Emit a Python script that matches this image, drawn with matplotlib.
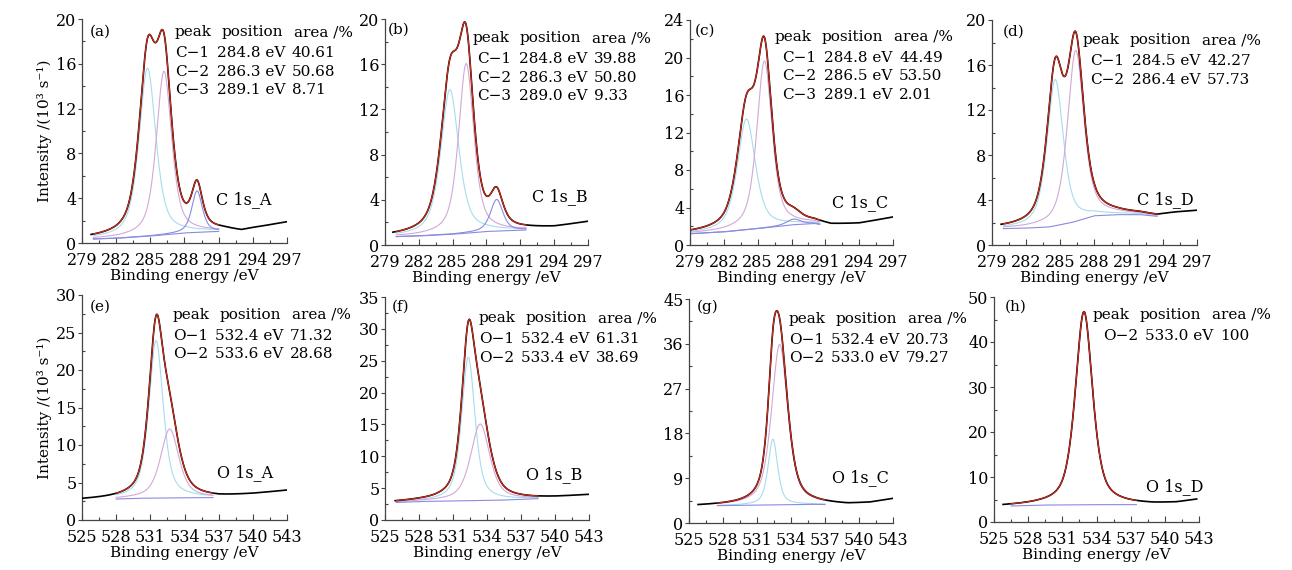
import numpy as np
import matplotlib
matplotlib.use("Agg")
import matplotlib.pyplot as plt
from matplotlib.ticker import MultipleLocator

plt.rcParams["font.family"] = ["DejaVu Serif"]

W, H = 1292, 570

# -------------------------------
# chart values
# -------------------------------

panel_tags = ["(a)", "(b)", "(c)", "(d)", "(e)", "(f)", "(g)", "(h)"]
sample_names = ["C 1s_A", "C 1s_B", "C 1s_C", "C 1s_D",
                "O 1s_A", "O 1s_B", "O 1s_C", "O 1s_D"]

x_limits = [(279, 297)] * 4 + [(525, 543)] * 4
y_tops = [20, 20, 24, 20, 30, 35, 45, 50]
y_steps = [4, 4, 4, 4, 5, 5, 9, 10]

# legend table
peak_labels = [["C−1", "C−2", "C−3"], ["C−1", "C−2", "C−3"],
               ["C−1", "C−2", "C−3"], ["C−1", "C−2"],
               ["O−1", "O−2"], ["O−1", "O−2"], ["O−1", "O−2"], ["O−2"]]
peak_positions = [[284.8, 286.3, 289.1], [284.8, 286.3, 289.0],
                  [284.8, 286.5, 289.1], [284.5, 286.4],
                  [532.4, 533.6], [532.4, 533.4], [532.4, 533.0], [533.0]]
peak_areas = [["40.61", "50.68", "8.71"], ["39.88", "50.80", "9.33"],
              ["44.49", "53.50", "2.01"], ["42.27", "57.73"],
              ["71.32", "28.68"], ["61.31", "38.69"], ["20.73", "79.27"], ["100"]]

# fitted components as drawn (centre, height above background, fwhm)
comp_centers = [[284.75, 286.2, 289.1], [284.75, 286.2, 288.9],
                [284.0, 285.6, 288.2], [284.55, 286.35],
                [531.5, 532.7], [532.35, 533.4], [532.4, 533.0], [532.9]]
comp_heights = [[15.0, 14.6, 3.7], [12.8, 15.0, 2.8],
                [11.8, 17.8, 0.6], [13.0, 15.2],
                [21.0, 9.2], [22.5, 12.0], [13.2, 32.2], [42.9]]
comp_fwhm = [[1.75, 1.6, 1.1], [1.9, 1.6, 1.3],
             [1.9, 1.6, 1.5], [1.7, 1.7],
             [1.5, 1.9], [1.4, 2.0], [1.0, 1.7], [1.8]]
mix_lorentz = 0.6

# background level under the spectra
bg_x = [[279.8, 282, 285, 288, 290, 291.5, 293, 294, 297],
        [279.7, 282, 285, 288, 291, 294, 297],
        [279.0, 282, 285, 288, 290, 291.5, 294, 297],
        [279.8, 282, 284, 286, 288, 290, 292, 293.5, 295, 297],
        [525.0, 528, 530, 537, 540, 543],
        [525.9, 528, 531, 535, 538, 540, 543],
        [525.8, 528, 531, 536, 539, 541, 543],
        [525.8, 529, 533, 537, 539, 541, 542.8]]
bg_y = [[0.35, 0.42, 0.62, 0.9, 1.0, 1.05, 0.95, 1.2, 1.8],
        [0.73, 0.8, 0.95, 1.2, 1.3, 1.5, 2.0],
        [1.2, 1.4, 1.75, 2.15, 2.3, 2.0, 2.2, 2.9],
        [1.45, 1.5, 1.6, 2.0, 2.6, 2.7, 2.7, 2.55, 2.8, 3.0],
        [2.65, 2.8, 2.9, 3.0, 3.4, 3.9],
        [2.75, 2.9, 3.0, 3.1, 3.3, 3.5, 3.9],
        [3.4, 3.5, 3.6, 3.75, 3.65, 4.0, 4.8],
        [3.5, 3.75, 3.85, 3.85, 3.9, 4.2, 4.9]]

# energy span of the fit (red envelope, components, baseline)
fit_spans = [(280.0, 291.0), (280.0, 291.5), (279.0, 290.5), (280.0, 293.5),
             (528.0, 536.5), (526.0, 538.5), (527.5, 537.0), (526.5, 537.5)]

# -------------------------------
# layout (pixels of the reference)
# -------------------------------

axes_px = [(82, 287, 19, 243), (385, 588, 19, 245), (690, 893, 20, 245), (992, 1197, 20, 245),
           (82, 287, 295, 520), (385, 589, 297, 520), (689, 893, 299, 523), (994, 1199, 297, 522)]
header_px = [(175, 32), (473, 38), (775, 37), (1083, 40),
             (173, 315), (479, 318), (789, 319), (1093, 315)]
row_x_px = [175, 477, 782, 1090, 173, 479, 789, 1103]
tag_px = [(90, 32), (388, 30), (695, 31), (1003, 32),
          (90, 307), (392, 307), (697, 307), (1005, 307)]
name_px = [(244, 200), (560, 197), (860, 203), (1165, 200),
           (245, 473), (554, 475), (860, 478), (1175, 487)]

comp_colors = ["#a6dcee", "#d3a8d6", "#8a8ae2"]
base_color = "#8a8ae2"
FS = 11


def pseudo_voigt(x, c, h, w, eta=mix_lorentz):
    g = np.exp(-4 * np.log(2) * ((x - c) / w) ** 2)
    l = 1.0 / (1.0 + ((x - c) / (w / 2)) ** 2)
    return h * (eta * l + (1 - eta) * g)


fig = plt.figure(figsize=(W / 100, H / 100), dpi=100)

for i in range(8):
    l, r, t, b = axes_px[i]
    ax = fig.add_axes([l / W, 1 - b / H, (r - l) / W, (b - t) / H])

    # measured spectrum
    x = np.linspace(bg_x[i][0], bg_x[i][-1], 500)
    y = np.interp(x, bg_x[i], bg_y[i])
    for c, h, w in zip(comp_centers[i], comp_heights[i], comp_fwhm[i]):
        y = y + pseudo_voigt(x, c, h, w)
    ax.plot(x, y, color="black", lw=1.2, zorder=3)

    # fit
    xf = np.linspace(fit_spans[i][0], fit_spans[i][1], 400)
    base = np.interp(xf, bg_x[i], bg_y[i])
    total = base.copy()
    for k, (c, h, w) in enumerate(zip(comp_centers[i], comp_heights[i], comp_fwhm[i])):
        comp = pseudo_voigt(xf, c, h, w)
        total = total + comp
        col = comp_colors[k] if i != 7 else comp_colors[1]
        ax.plot(xf, base + comp, color=col, lw=0.8, zorder=2)
    ax.plot(xf, base, color=base_color, lw=0.8, zorder=2)
    ax.plot(xf, total, color="#dc2a18", lw=0.8, zorder=4)

    ax.set_xlim(*x_limits[i])
    ax.set_ylim(0, y_tops[i])
    ax.xaxis.set_major_locator(MultipleLocator(3))
    ax.xaxis.set_minor_locator(MultipleLocator(1.5))
    ax.yaxis.set_major_locator(MultipleLocator(y_steps[i]))
    ax.yaxis.set_minor_locator(MultipleLocator(y_steps[i] / 2))
    for side in ["top", "right"]:
        ax.spines[side].set_visible(False)
    for side in ["left", "bottom"]:
        ax.spines[side].set_color("#444444")
        ax.spines[side].set_linewidth(0.9)
    ax.tick_params(axis="x", which="major", direction="in", length=4, width=0.8,
                   labelsize=11.5, pad=6.5, colors="#444444", labelcolor="black")
    ax.tick_params(axis="x", which="minor", direction="in", length=2.5, width=0.8,
                   colors="#444444")
    ax.tick_params(axis="y", which="major", direction="out", length=3, width=0.8,
                   labelsize=11.5, pad=1, colors="#444444", labelcolor="black")
    ax.tick_params(axis="y", which="minor", direction="in", length=2.5, width=0.8,
                   colors="#444444")
    ax.set_xlabel("Binding energy /eV", fontsize=FS, labelpad=0)
    if i in (0, 4):
        ax.set_ylabel("Intensity /(10³ s⁻¹)", fontsize=FS, labelpad=3)

    # legend table
    hx, hy = header_px[i]
    fig.text(hx / W, 1 - hy / H, "peak", fontsize=FS, va="center")
    fig.text((hx + 47) / W, 1 - hy / H, "position", fontsize=FS, va="center")
    fig.text((hx + 119) / W, 1 - hy / H, "area /%", fontsize=FS, va="center")
    rx = row_x_px[i]
    for k in range(len(peak_labels[i])):
        ry = hy + 21 + 18.5 * k
        fig.text(rx / W, 1 - ry / H, peak_labels[i][k], fontsize=FS, va="center")
        fig.text((rx + 42) / W, 1 - ry / H, f"{peak_positions[i][k]:.1f} eV",
                 fontsize=FS, va="center")
        fig.text((rx + 117) / W, 1 - ry / H, peak_areas[i][k], fontsize=FS, va="center")

    tx, ty = tag_px[i]
    fig.text(tx / W, 1 - ty / H, panel_tags[i], fontsize=FS, va="center")
    nx, ny = name_px[i]
    fig.text(nx / W, 1 - ny / H, sample_names[i], fontsize=11.5, va="center", ha="center")

fig.savefig("out.png", dpi=100, facecolor="white")
